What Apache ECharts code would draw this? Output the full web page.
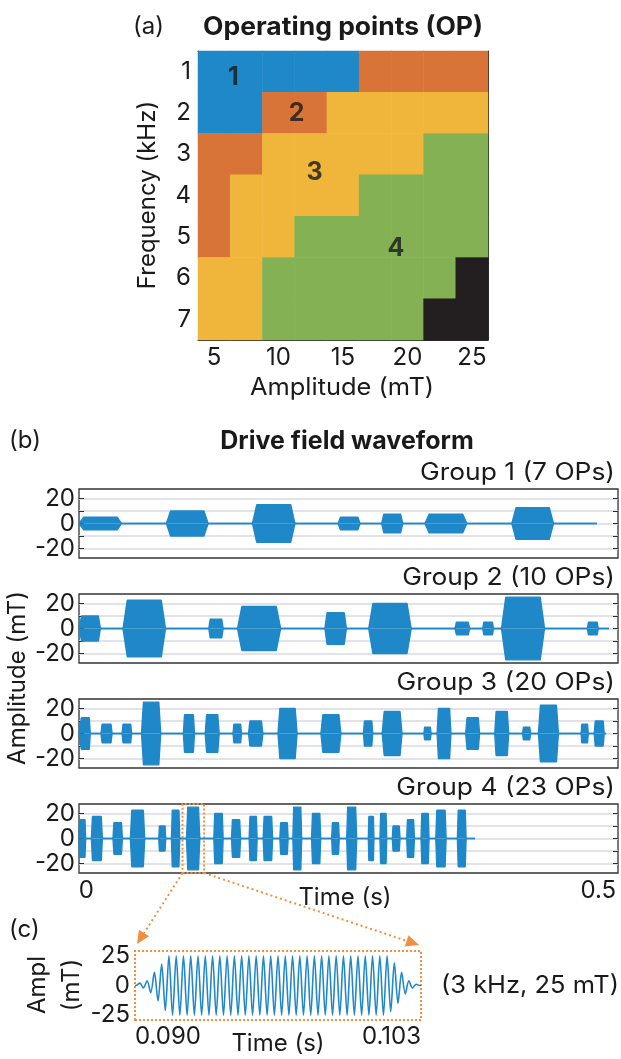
<!DOCTYPE html>
<html><head><meta charset="utf-8">
<script src="https://cdn.jsdelivr.net/npm/echarts@6/dist/echarts.min.js"></script>
<style>html,body{margin:0;padding:0;background:#fff}#c{width:621px;height:1059px}</style>
</head><body><div id="c"></div><script>
// ---------------- data ----------------
const AMPLITUDES = ['5','7.5','10','12.5','15','17.5','20','22.5','25'];
const FREQUENCIES = ['1','2','3','4','5','6','7'];
// group of each operating point (row = frequency, column = amplitude), 0 = not feasible
const OP_GROUP = [
  [1,1,1,1,1,2,2,2,2],
  [1,1,2,2,3,3,3,3,3],
  [2,2,3,3,3,3,3,4,4],
  [2,3,3,3,3,4,4,4,4],
  [2,3,3,4,4,4,4,4,4],
  [3,3,4,4,4,4,4,4,0],
  [3,3,4,4,4,4,4,0,0]
];
const GROUP_TAGS = ['1','2','3','4'];
const GROUP_TAG_AMP = [6.5, 11.4, 12.8, 19.1];
const GROUP_TAG_FREQ = [1.13, 2.01, 3.45, 5.28];

// drive field bursts (s, mT)
const G1_START = [-0.0066,0.0782,0.1623,0.2460,0.2885,0.3308,0.4156];
const G1_END   = [0.0342,0.1189,0.2037,0.2673,0.3090,0.3716,0.4563];
const G1_AMP   = [5,10,15,5,7.5,7.5,12.5];
const G1_LINE_END = 0.4987;

const G2_START = [-0.0066,0.0358,0.1196,0.1477,0.2330,0.2758,0.3601,0.3872,0.4055,0.4894];
const G2_END   = [0.0137,0.0773,0.1336,0.1897,0.2540,0.3173,0.3744,0.3977,0.4475,0.5000];
const G2_AMP   = [10,22.5,7.5,17.5,12.5,20,5,5,25,5];
const G2_LINE_END = 0.5105;

const G3_START = [-0.0059,0.0143,0.0349,0.0539,0.0948,0.1161,0.1433,0.1584,0.1872,0.2291,0.2707,0.2890,0.3297,0.3426,0.3705,0.3989,0.4261,0.4416,0.4833,0.4961];
const G3_END   = [0.0038,0.0251,0.0442,0.0726,0.1056,0.1297,0.1515,0.1724,0.2058,0.2486,0.2797,0.3083,0.3367,0.3561,0.3841,0.4125,0.4339,0.4611,0.4902,0.5058];
const G3_AMP   = [12.5,7.5,7.5,25,15,15,7.5,10,20,15,10,17.5,5,20,12.5,17.5,5,22.5,7.5,10];
const G3_LINE_END = 0.5077;

const G4_START = [-0.0072,0.0049,0.0260,0.0430,0.0707,0.0831,0.0978,0.1245,0.1418,0.1590,0.1727,0.1890,0.2017,0.2200,0.2396,0.2543,0.2754,0.2868,0.2988,0.3129,0.3269,0.3413,0.3624];
const G4_END   = [-0.0007,0.0156,0.0352,0.0570,0.0775,0.0912,0.1108,0.1336,0.1506,0.1668,0.1819,0.1971,0.2103,0.2289,0.2470,0.2640,0.2809,0.2934,0.3064,0.3204,0.3347,0.3514,0.3709];
const G4_AMP   = [15,17.5,12.5,22.5,10,22.5,25,20,15,17.5,17.5,12.5,25,20,12.5,25,17.5,20,10,15,20,22.5,22.5];
const G4_LINE_END = 0.3797;

const GROUP_TITLES = ['Group 1 (7 OPs)','Group 2 (10 OPs)','Group 3 (20 OPs)','Group 4 (23 OPs)'];
const TIME_TICKS = [0, 0.5];
const FIELD_TICKS = [-20, -10, 0, 10, 20];
const FIELD_LABELS = [-20, 0, 20];

// zoom window highlighted in group 4 (s)
const ZOOM_BOX = [0.0939, 0.1150];

// panel (c): extrema of the 3 kHz, 25 mT burst
const C_TIME_LABELS = [0.090, 0.103];
const C_FIELD_LABELS = [-25, 0, 25];
const C_T_FIRST = 0.09022, C_T_LAST = 0.10278;
const C_EXTREMA = [2,-2,4,-6,11,-13,18,-21,
  25,-25,25,-25,25,-25,25,-25,25,-25,
  25,-25,25,-25,25,-25,25,-25,25,-25,
  25,-25,25,-25,25,-25,25,-25,25,-25,
  25,-25,25,-25,25,-25,25,-25,25,-25,
  25,-25,25,-25,25,-25,25,-25,25,-25,
  25,-25,25,-25,25,-25,25,-25,25,-25,
  25,
  -22,19,-15,11,-7,4,-2,1];

// ---------------- style / layout ----------------
const FONT = 'Inter';
const TXT = '#1a1a1a';
const BLUE = '#1f88c9';
const ORANGE = '#f28e3f';
const HEAT_COLORS = ['#231f20','#1f88c9','#d87437','#f0b53b','#84b153'];
const T_MIN = -0.0072, T_MAX = 0.5193;
const Y_LIM = 27.5, C_Y_LIM = 29;
const RAMP_FRACTION = 0.1;
const GROUP_TOP = [489, 594, 699, 804];

const groups = [
  [G1_START,G1_END,G1_AMP,G1_LINE_END],
  [G2_START,G2_END,G2_AMP,G2_LINE_END],
  [G3_START,G3_END,G3_AMP,G3_LINE_END],
  [G4_START,G4_END,G4_AMP,G4_LINE_END]
];

function envelope(starts, ends, amps, lineEnd, sign) {
  const pts = [[T_MIN, 0]];
  starts.forEach((s, i) => {
    const e = ends[i], a = sign * amps[i], r = RAMP_FRACTION * (e - s);
    pts.push([s, 0], [s + r, a], [e - r, a], [e, 0]);
  });
  pts.push([lineEnd, 0]);
  return pts;
}

const heatData = [];
OP_GROUP.forEach((row, r) => row.forEach((g, c) => heatData.push([c, r, g])));

const cStep = (C_T_LAST - C_T_FIRST) / (C_EXTREMA.length - 1);
const cData = [[C_TIME_LABELS[0], 0], [C_T_FIRST - cStep, 0]];
C_EXTREMA.forEach((v, i) => cData.push([C_T_FIRST + i * cStep, v]));
cData.push([C_T_LAST + cStep, 0], [C_TIME_LABELS[1], 0]);

const tickStyle = {color: '#2a2a2a', width: 1};
const grid = [{left: 198, top: 51, width: 290, height: 289}];
GROUP_TOP.forEach(t => grid.push({left: 79, top: t, width: 539, height: 69, show: true,
  borderColor: '#333333', borderWidth: 1.3, backgroundColor: 'rgba(0,0,0,0)'}));
grid.push({left: 135, top: 951, width: 286, height: 69});

const xAxis = [
  {type: 'category', gridIndex: 0, data: AMPLITUDES, position: 'bottom',
   axisLine: {show: true, lineStyle: tickStyle},
   axisTick: {show: true, inside: true, length: 4, alignWithLabel: true, interval: 0, lineStyle: tickStyle},
   axisLabel: {interval: 1, fontSize: 24, color: TXT, fontFamily: FONT, margin: 6}},
  {type: 'category', gridIndex: 0, data: AMPLITUDES, position: 'top',
   axisLine: {show: true, lineStyle: tickStyle},
   axisTick: {show: true, inside: true, length: 4, alignWithLabel: true, interval: 0, lineStyle: tickStyle},
   axisLabel: {show: false}},
  {type: 'value', gridIndex: 0, min: 3.75, max: 26.25, show: false}
];
const yAxis = [
  {type: 'category', gridIndex: 0, data: FREQUENCIES, inverse: true, position: 'left',
   axisLine: {show: true, lineStyle: tickStyle},
   axisTick: {show: true, inside: true, length: 4, alignWithLabel: true, interval: 0, lineStyle: tickStyle},
   axisLabel: {fontSize: 24, color: TXT, fontFamily: FONT, margin: 7}},
  {type: 'category', gridIndex: 0, data: FREQUENCIES, inverse: true, position: 'right',
   axisLine: {show: true, lineStyle: tickStyle},
   axisTick: {show: true, inside: true, length: 4, alignWithLabel: true, interval: 0, lineStyle: tickStyle},
   axisLabel: {show: false}},
  {type: 'value', gridIndex: 0, min: 0.5, max: 7.5, inverse: true, show: false}
];
GROUP_TOP.forEach((t, g) => {
  xAxis.push({type: 'value', gridIndex: g + 1, min: T_MIN, max: T_MAX,
    axisLine: {show: false, onZero: false}, axisTick: {show: false}, splitLine: {show: false},
    axisLabel: {show: g === 3, customValues: TIME_TICKS, formatter: v => String(v),
      fontSize: 24, color: TXT, fontFamily: FONT, margin: 6}});
});
xAxis.push({type: 'value', gridIndex: 5, min: C_TIME_LABELS[0], max: C_TIME_LABELS[1],
  axisLine: {show: false, onZero: false}, axisTick: {show: false}, splitLine: {show: false},
  axisLabel: {customValues: C_TIME_LABELS, formatter: v => v.toFixed(3), alignMinLabel: 'left', alignMaxLabel: 'right',
    fontSize: 24, color: TXT, fontFamily: FONT, margin: 5}});
GROUP_TOP.forEach((t, g) => {
  yAxis.push({type: 'value', gridIndex: g + 1, min: -Y_LIM, max: Y_LIM, position: 'left',
    axisLine: {show: false, onZero: false},
    axisTick: {show: true, inside: true, length: 5, customValues: FIELD_TICKS, lineStyle: tickStyle},
    splitLine: {show: true, lineStyle: {color: '#d7dae0', width: 1.5}},
    axisLabel: {customValues: FIELD_LABELS, fontSize: 24, color: TXT, fontFamily: FONT, margin: 4}});
});
GROUP_TOP.forEach((t, g) => {
  yAxis.push({type: 'value', gridIndex: g + 1, min: -Y_LIM, max: Y_LIM, position: 'right',
    axisLine: {show: false, onZero: false},
    axisTick: {show: true, inside: true, length: 5, customValues: FIELD_TICKS, lineStyle: tickStyle},
    splitLine: {show: false}, axisLabel: {show: false}});
});
yAxis.push({type: 'value', gridIndex: 5, min: -C_Y_LIM, max: C_Y_LIM,
  axisLine: {show: false, onZero: false}, axisTick: {show: false}, splitLine: {show: false},
  axisLabel: {customValues: C_FIELD_LABELS, fontSize: 24, color: TXT, fontFamily: FONT, margin: 5}});

const series = [
  {type: 'heatmap', xAxisIndex: 0, yAxisIndex: 0, data: heatData, silent: true,
   itemStyle: {borderWidth: 0}, emphasis: {disabled: true}},
  {type: 'scatter', xAxisIndex: 2, yAxisIndex: 2, symbolSize: 1, silent: true,
   itemStyle: {color: 'rgba(0,0,0,0)'},
   data: GROUP_TAGS.map((n, i) => ({name: n, value: [GROUP_TAG_AMP[i], GROUP_TAG_FREQ[i]]})),
   label: {show: true, position: 'inside', formatter: '{b}', fontSize: 25, fontWeight: 'bold',
     color: '#1a1a1a', fontFamily: FONT}}
];
groups.forEach((gd, g) => {
  [1, -1].forEach(sign => {
    const s = {type: 'line', xAxisIndex: 3 + g, yAxisIndex: 3 + g, data: envelope(gd[0], gd[1], gd[2], gd[3], sign),
      symbol: 'none', silent: true, clip: false, z: 5, color: BLUE,
      itemStyle: {color: BLUE},
      lineStyle: {color: BLUE, width: 1.4}, areaStyle: {color: BLUE, opacity: 1}};
    if (g === 3 && sign === 1) {
      s.markArea = {silent: true,
        itemStyle: {color: 'rgba(0,0,0,0)', borderColor: ORANGE, borderWidth: 2, borderType: [2, 2]},
        data: [[{xAxis: ZOOM_BOX[0], yAxis: -Y_LIM}, {xAxis: ZOOM_BOX[1], yAxis: Y_LIM}]]};
    }
    series.push(s);
  });
});
const C_SERIES_INDEX = series.length;
series.push({type: 'line', xAxisIndex: 7, yAxisIndex: 11, data: cData, symbol: 'none', silent: true,
  clip: false, smooth: 0.3, color: BLUE, lineStyle: {color: BLUE, width: 1.6},
  markArea: {silent: true,
    itemStyle: {color: 'rgba(0,0,0,0)', borderColor: ORANGE, borderWidth: 2, borderType: [2, 2]},
    data: [[{xAxis: C_TIME_LABELS[0], yAxis: -C_Y_LIM}, {xAxis: C_TIME_LABELS[1], yAxis: C_Y_LIM}]]}});

function txt(text, x, y, opt) {
  return Object.assign({type: 'text', silent: true, x: x, y: y,
    style: Object.assign({text: text, fill: TXT, fontFamily: FONT, fontSize: 24,
      align: 'center', verticalAlign: 'middle'}, opt && opt.style)}, opt && opt.el);
}
const texts = [
  txt('(a)', 133, 27, {style: {align: 'left'}}),
  txt('Operating points (OP)', 343, 27, {style: {fontWeight: 'bold', fontSize: 25}, el: {scaleX: 1.06}}),
  txt('Frequency (kHz)', 148, 195, {el: {rotation: Math.PI / 2}}),
  txt('Amplitude (mT)', 342, 388, {el: {scaleX: 1.06}}),
  txt('(b)', 9, 441, {style: {align: 'left'}}),
  txt('Drive field waveform', 347, 441, {style: {fontWeight: 'bold', fontSize: 25}}),
  txt('Amplitude (mT)', 18, 678, {el: {rotation: Math.PI / 2}}),
  txt('Time (s)', 345, 898),
  txt('(c)', 9, 930, {style: {align: 'left'}}),
  txt('Ampl', 38, 985, {el: {rotation: Math.PI / 2}}),
  txt('(mT)', 72, 985, {el: {rotation: Math.PI / 2}}),
  txt('Time (s)', 278, 1044),
  txt('(3 kHz, 25 mT)', 441, 986, {style: {align: 'left'}, el: {scaleX: 1.06}})
];
GROUP_TITLES.forEach((t, g) => texts.push(txt(t, 615, GROUP_TOP[g] - 16, {style: {align: 'right'}, el: {scaleX: 1.1}})));

const chart = echarts.init(document.getElementById('c'), null, {renderer: 'canvas'});
chart.setOption({
  animation: false,
  backgroundColor: '#ffffff',
  textStyle: {fontFamily: FONT},
  grid: grid, xAxis: xAxis, yAxis: yAxis,
  visualMap: {type: 'piecewise', show: false, seriesIndex: 0, dimension: 2,
    pieces: HEAT_COLORS.map((c, i) => ({value: i, color: c}))},
  series: series,
  graphic: texts
});

// zoom arrows from the group 4 window to panel (c)
const G4_SERIES_INDEX = 2 + 3 * 2;
const pBL = chart.convertToPixel({seriesIndex: G4_SERIES_INDEX}, [ZOOM_BOX[0], -Y_LIM]);
const pBR = chart.convertToPixel({seriesIndex: G4_SERIES_INDEX}, [ZOOM_BOX[1], -Y_LIM]);
const cTL = chart.convertToPixel({seriesIndex: C_SERIES_INDEX}, [C_TIME_LABELS[0], C_Y_LIM]);
const cTR = chart.convertToPixel({seriesIndex: C_SERIES_INDEX}, [C_TIME_LABELS[1], C_Y_LIM]);
function arrow(from, tip) {
  const dx = tip[0] - from[0], dy = tip[1] - from[1], L = Math.hypot(dx, dy);
  const ux = dx / L, uy = dy / L, len = 13, w = 6;
  const base = [tip[0] - ux * len, tip[1] - uy * len];
  return [
    {type: 'line', silent: true, shape: {x1: from[0], y1: from[1], x2: base[0], y2: base[1]},
     style: {stroke: ORANGE, lineWidth: 2, lineDash: [2, 3]}},
    {type: 'polygon', silent: true, shape: {points: [tip, [base[0] - uy * w, base[1] + ux * w], [base[0] + uy * w, base[1] - ux * w]]},
     style: {fill: ORANGE}}
  ];
}
const arrows = arrow(pBL, [cTL[0] + 2, cTL[1] - 7]).concat(arrow(pBR, [cTR[0] - 2, cTR[1] - 6]));
chart.setOption({graphic: texts.concat(arrows)});
</script></body></html>
